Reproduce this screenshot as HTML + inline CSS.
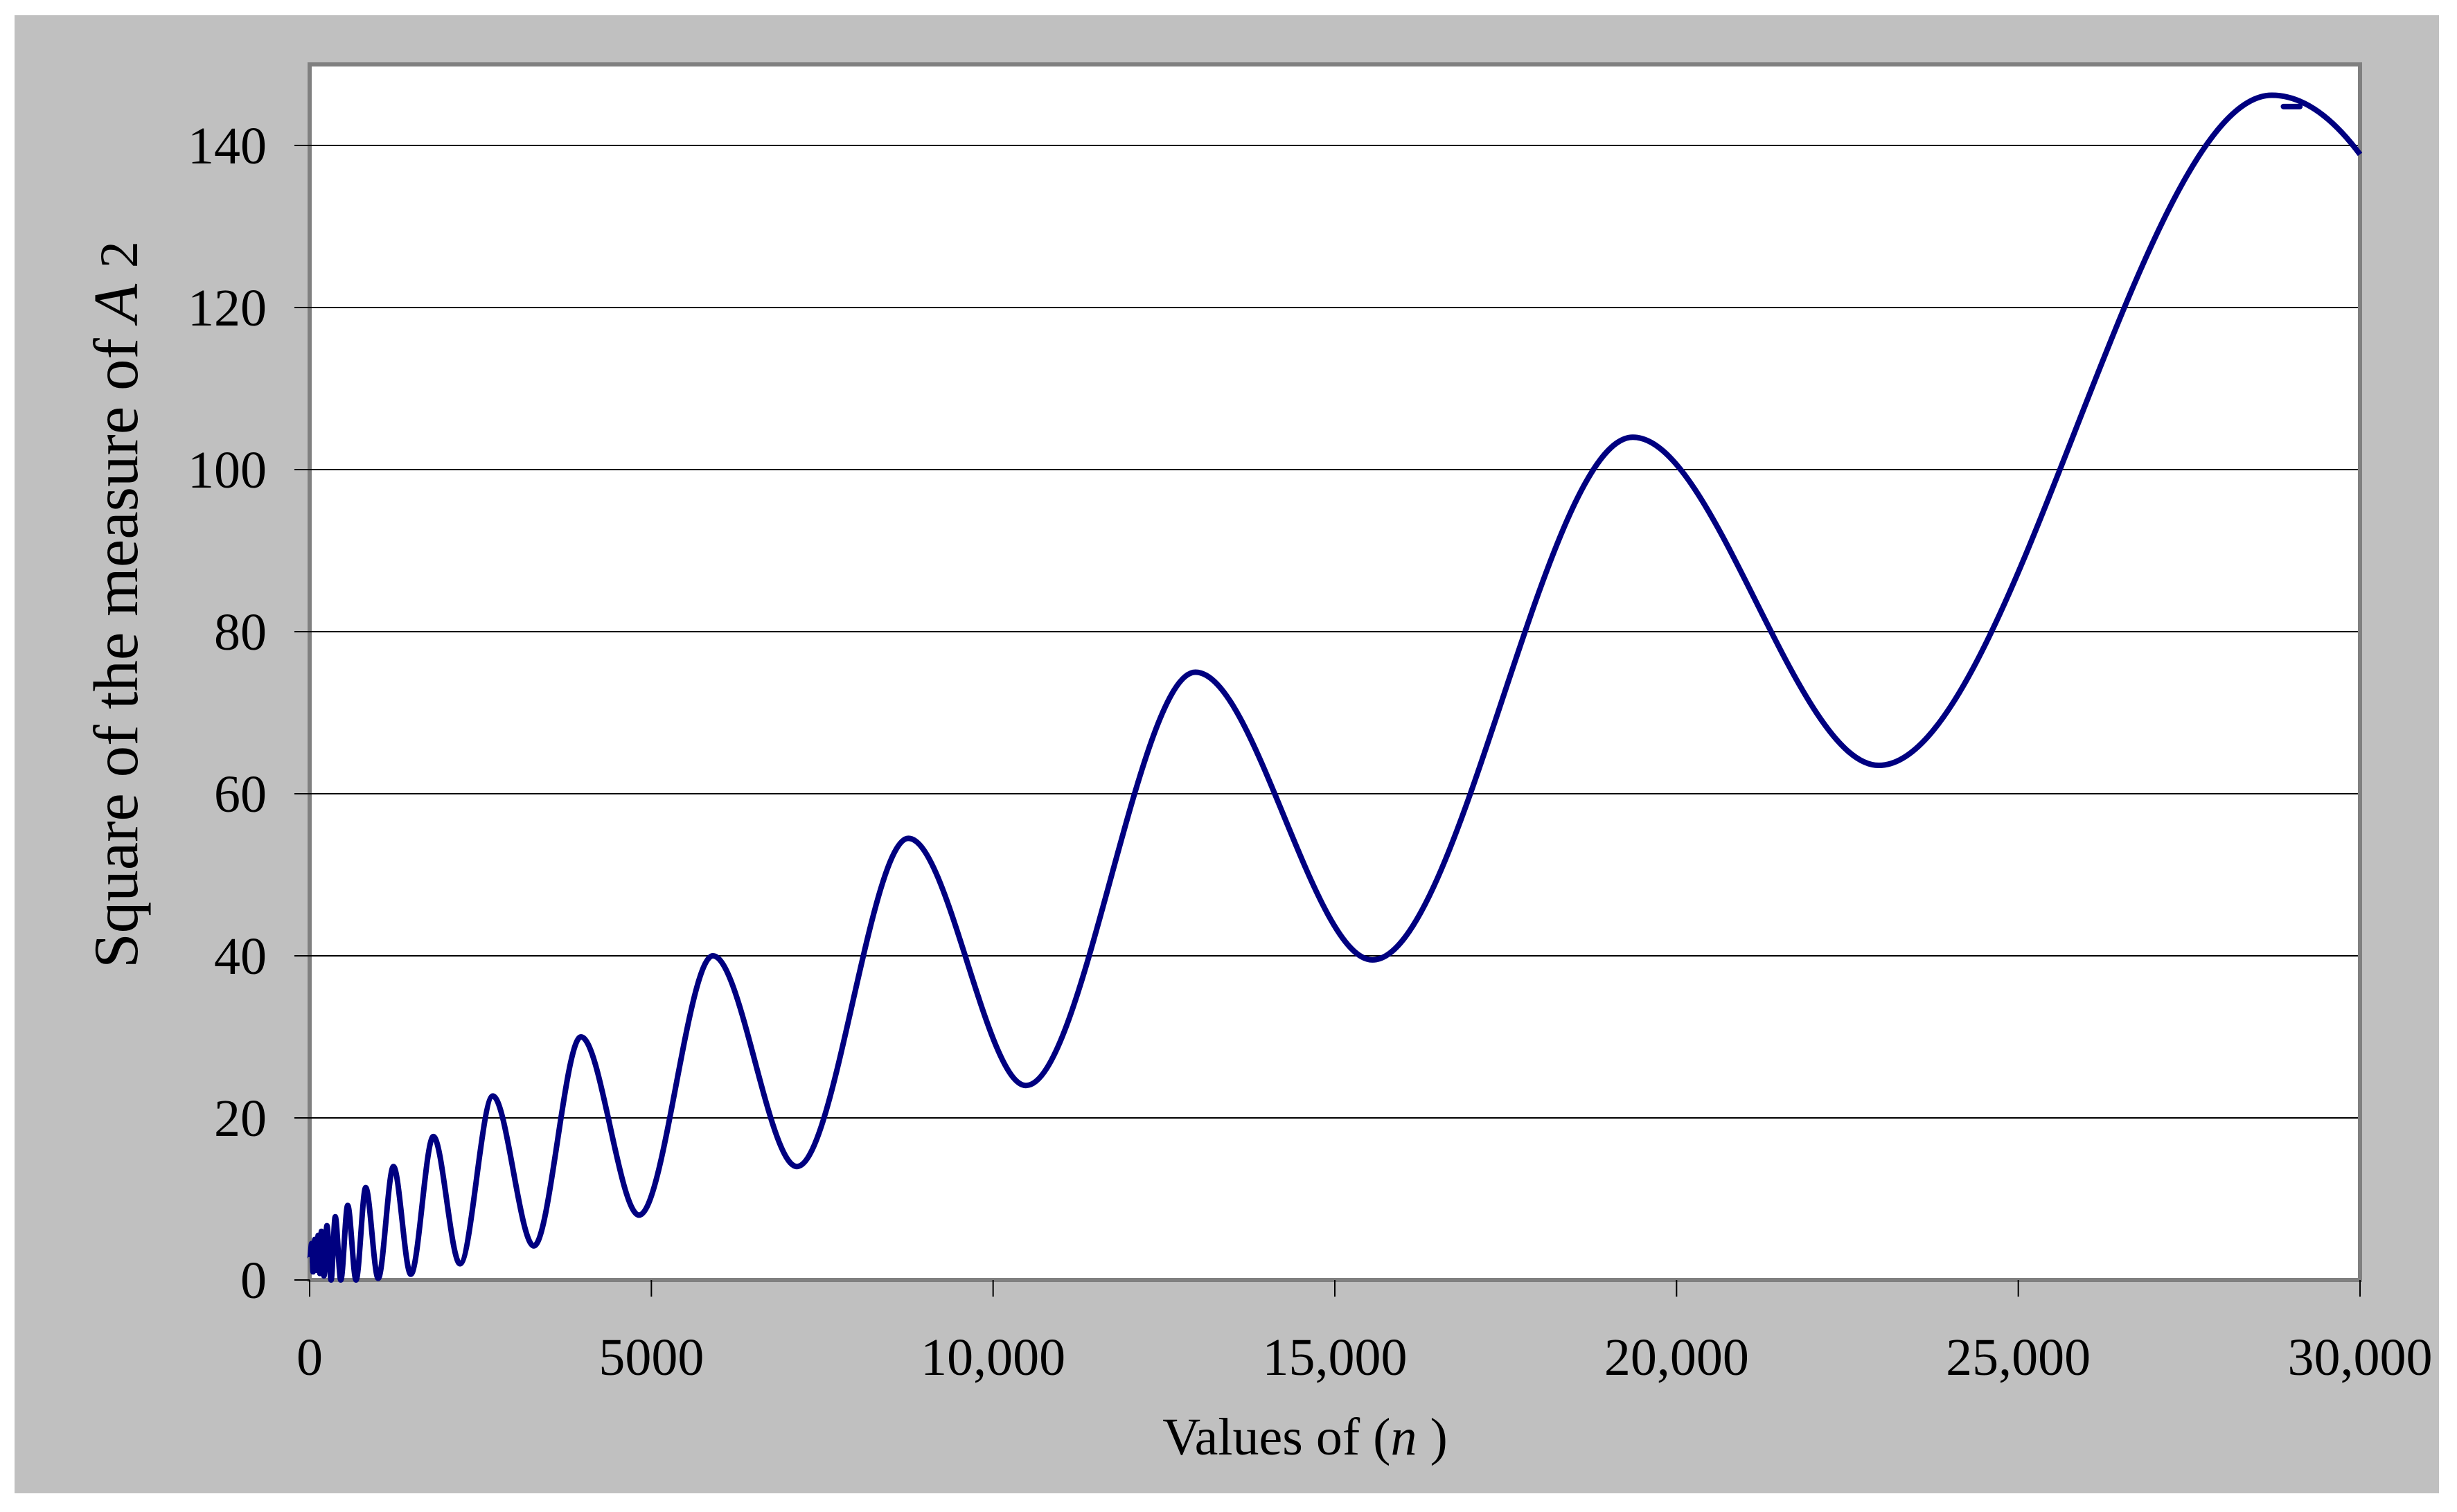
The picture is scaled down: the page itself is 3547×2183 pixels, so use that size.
<!DOCTYPE html>
<html><head><meta charset="utf-8"><style>
html,body{margin:0;padding:0;background:#fff;}
svg{display:block;}
text{font-family:"Liberation Serif",serif;fill:#000;}
</style></head><body>
<svg id="chart" width="3547" height="2183" viewBox="0 0 3547 2183" xmlns="http://www.w3.org/2000/svg">
<rect x="0" y="0" width="3547" height="2183" fill="#ffffff"/>
<rect x="21" y="22" width="3500" height="2134" fill="#c0c0c0"/>
<rect x="447" y="93" width="2960" height="1755" fill="#ffffff" stroke="#808080" stroke-width="6"/>
<g id="grid"></g>
<g id="ticks"></g>
<g id="ylabels"></g>
<g id="xlabels"></g>
<g id="series"></g>
<text x="1884" y="2100" font-size="76" text-anchor="middle">Values of (<tspan font-style="italic">n</tspan> )</text>
<text transform="translate(198,873) rotate(-90)" font-size="91" text-anchor="middle">Square of the measure of <tspan font-style="italic">A</tspan> <tspan font-size="78">2</tspan></text>
</svg>
<script>
const nValues = [0,30,50,75,100,125,150,172,210,253,314,375,456,557,679,820,1003,1226,1480,1810,2200,2680,3280,3970,4820,5900,7130,8760,10480,12960,15550,19360,22960,28710,30000];
const a2Values = [2.5,4.5,1,5,1.2,5.5,0.8,6,0.5,6.7,0,7.8,0,9.2,0,11.4,0.2,14.0,0.7,17.7,2,22.7,4.2,30,8,40,14,54.5,24,75,39.5,104,63.5,146.2,138.9];
const glitchN = [28880,29120];
const glitchA = [144.8,144.8];
const yTicks = [0,20,40,60,80,100,120,140];
const yTickLabels = ["0","20","40","60","80","100","120","140"];
const xTicks = [0,5000,10000,15000,20000,25000,30000];
const xTickLabels = ["0","5000","10,000","15,000","20,000","25,000","30,000"];

const PL=447, PR=3407, PT=93, PB=1848, XMAX=30000, YMAX=150;
function sx(v){return PL+(v/XMAX)*(PR-PL);}
function sy(v){return PB-(v/YMAX)*(PB-PT);}
const NS="http://www.w3.org/2000/svg";
function mk(tag,parent){const e=document.createElementNS(NS,tag);document.getElementById(parent).appendChild(e);return e;}

yTicks.forEach((t,i)=>{
  if(t>0){
    const g=mk('line','grid');
    
    
    g.setAttribute('x1',PL);g.setAttribute('x2',PR-3);g.setAttribute('y1',sy(t));g.setAttribute('y2',sy(t));
    g.setAttribute('stroke','#000');g.setAttribute('stroke-width','2');
  }
  const tk=mk('line','ticks');
  
  
  tk.setAttribute('x1',PL-22);tk.setAttribute('x2',PL);tk.setAttribute('y1',sy(t));tk.setAttribute('y2',sy(t));
  tk.setAttribute('stroke','#000');tk.setAttribute('stroke-width','2');
  const lb=mk('text','ylabels');
  
  
  lb.setAttribute('x',PL-62);lb.setAttribute('y',sy(t)+26);lb.setAttribute('font-size','76');lb.setAttribute('text-anchor','end');
  lb.textContent=yTickLabels[i];
});
xTicks.forEach((t,i)=>{
  const tk=mk('line','ticks');
  
  
  tk.setAttribute('x1',sx(t));tk.setAttribute('x2',sx(t));tk.setAttribute('y1',PB);tk.setAttribute('y2',PB+24);
  tk.setAttribute('stroke','#000');tk.setAttribute('stroke-width','2');
  const lb=mk('text','xlabels');
  
  
  lb.setAttribute('x',sx(t));lb.setAttribute('y',1985);lb.setAttribute('font-size','76');lb.setAttribute('text-anchor','middle');
  lb.textContent=xTickLabels[i];
});

let d='M'+sx(nValues[0])+','+sy(a2Values[0]);
for(let i=1;i<nValues.length;i++){
  const x0=sx(nValues[i-1]),y0=sy(a2Values[i-1]),x1=sx(nValues[i]),y1=sy(a2Values[i]);
  const dx=(x1-x0)/3;
  if(i===nValues.length-1){
    const qx=(x0+x1)/2,qy=y0;
    d+=' C'+(x0+(qx-x0)*2/3)+','+(y0+(qy-y0)*2/3)+' '+(x1+(qx-x1)*2/3)+','+(y1+(qy-y1)*2/3)+' '+x1+','+y1;
  } else {
    d+=' C'+(x0+dx)+','+y0+' '+(x1-dx)+','+y1+' '+x1+','+y1;
  }
}
const p=mk('path','series');


p.setAttribute('d',d);p.setAttribute('fill','none');p.setAttribute('stroke','#000080');p.setAttribute('stroke-width','8');p.setAttribute('stroke-linejoin','round');
const gl=mk('path','series');


gl.setAttribute('d','M'+sx(glitchN[0])+','+sy(glitchA[0])+' L'+sx(glitchN[1])+','+sy(glitchA[1]));
gl.setAttribute('stroke','#000080');gl.setAttribute('stroke-width','8');gl.setAttribute('stroke-linecap','round');
</script>
</body></html>
